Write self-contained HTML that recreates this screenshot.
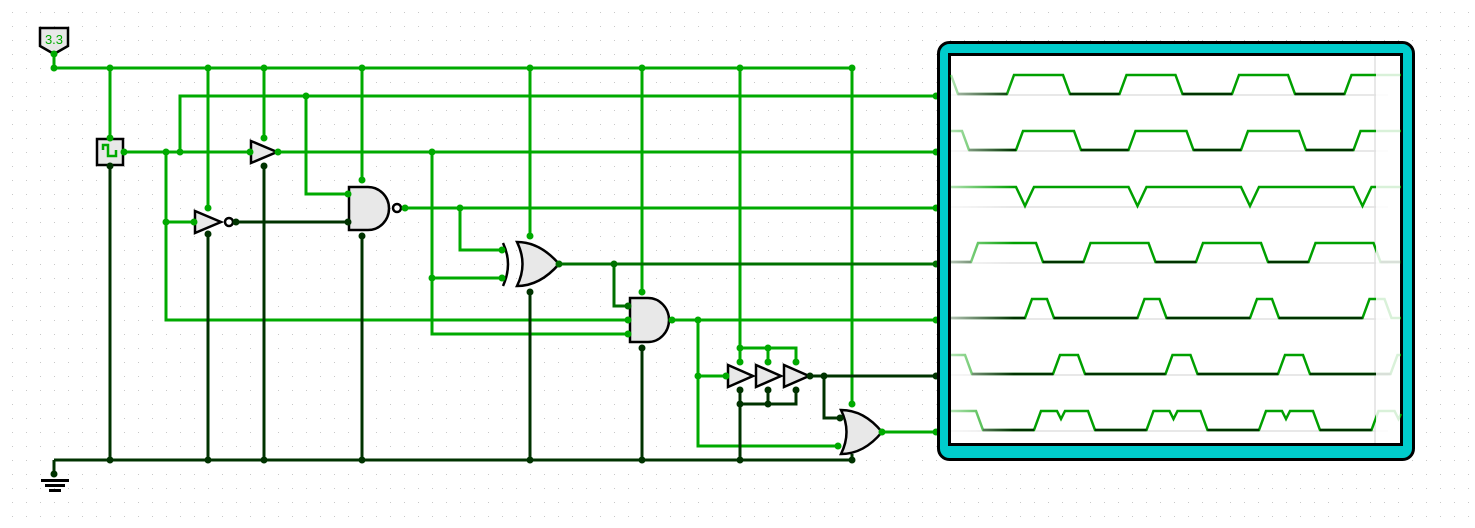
<!DOCTYPE html>
<html><head><meta charset="utf-8"><style>
html,body{margin:0;padding:0;background:#fff;width:1475px;height:528px;overflow:hidden}
svg{display:block}
</style></head><body>
<svg width="1475" height="528" viewBox="0 0 1475 528" xmlns="http://www.w3.org/2000/svg">
<defs>
<pattern id="dots" x="12" y="12" width="14" height="14" patternUnits="userSpaceOnUse"><rect x="0" y="0" width="1" height="1" fill="#c8c8c8"/></pattern>
<linearGradient id="fg" gradientUnits="userSpaceOnUse" x1="951" y1="0" x2="1014" y2="0">
<stop offset="0" stop-color="#fff" stop-opacity="0.7"/>
<stop offset="1" stop-color="#fff" stop-opacity="0"/>
</linearGradient>
</defs>
<rect width="1475" height="528" fill="url(#dots)"/>
<g fill="none" stroke-width="3">
<path stroke="#00aa00" d="M54 54V68H852M110 68V138M208 68V208M264 68V138M362 68V180M530 68V236M642 68V292M740 68V348H796V362M768 348V362M740 348V362M852 68V404M124 152H936M180 152V96H936M306 96V194H348M166 152V320H628M166 222H194M405 208H936M460 208V250H502M432 152V334H628M432 278H502M672 320H936M698 320V446H838M698 376H726M882 432H936"/>
<path stroke="#007000" d="M559 264H936M614 264V306H628"/>
<path stroke="#003300" d="M110 166V460M54 460H852M54 460V474M208 234V460M264 166V460M362 236V460M530 292V460M642 348V460M740 390V460M740 404H796V390M768 404V390M852 454V460M236 222H348M810 376H936M824 376V418H840"/>
</g>
<g fill="#000"><rect x="41" y="479" width="28" height="3"/><rect x="45" y="484" width="20" height="3"/><rect x="49" y="489" width="12" height="3"/></g>
<path d="M40 28H68V46L54 54L40 46Z" fill="#e8e8e8" stroke="#000" stroke-width="2.5"/>
<text x="54" y="44" font-family="Liberation Sans, sans-serif" font-size="13" fill="#00aa00" text-anchor="middle">3.3</text>
<rect x="97" y="139" width="26" height="26" fill="#e8e8e8" stroke="#000" stroke-width="2.5"/>
<path d="M103 150V145H108V156H116V150" fill="none" stroke="#00aa00" stroke-width="2.5"/>
<g fill="#e8e8e8" stroke="#000" stroke-width="2.5">
<polygon points="251,141 277,152 251,163"/>
<polygon points="195,211 221,222 195,233"/>
<circle cx="229" cy="222" r="4" fill="#fff"/>
<path d="M349 187H368A21 21.5 0 0 1 368 230H349Z"/>
<circle cx="397" cy="208" r="4" fill="#fff"/>
<path d="M503 243Q513 264 503 286" fill="none"/>
<path d="M517 242Q540 242 559 264Q540 286 517 286Q528 264 517 242Z"/>
<path d="M630 298H648A21 22 0 0 1 648 342H630Z"/>
<polygon points="728,365 753,376 728,387"/>
<polygon points="756,365 781,376 756,387"/>
<polygon points="784,365 809,376 784,387"/>
<path d="M841 410Q864 410 882 432Q864 454 841 454Q852 432 841 410Z"/>
</g>
<g fill="#00aa00">
<circle cx="54" cy="54" r="3.5"/><circle cx="54" cy="68" r="3.5"/><circle cx="110" cy="68" r="3.5"/><circle cx="208" cy="68" r="3.5"/><circle cx="264" cy="68" r="3.5"/><circle cx="362" cy="68" r="3.5"/><circle cx="530" cy="68" r="3.5"/><circle cx="642" cy="68" r="3.5"/><circle cx="740" cy="68" r="3.5"/><circle cx="852" cy="68" r="3.5"/>
<circle cx="110" cy="138" r="3.5"/><circle cx="124" cy="152" r="3.5"/><circle cx="166" cy="152" r="3.5"/><circle cx="180" cy="152" r="3.5"/><circle cx="250" cy="152" r="3.5"/><circle cx="278" cy="152" r="3.5"/><circle cx="432" cy="152" r="3.5"/><circle cx="306" cy="96" r="3.5"/><circle cx="264" cy="138" r="3.5"/><circle cx="208" cy="208" r="3.5"/><circle cx="166" cy="222" r="3.5"/><circle cx="194" cy="222" r="3.5"/><circle cx="348" cy="194" r="3.5"/><circle cx="362" cy="180" r="3.5"/><circle cx="405" cy="208" r="3.5"/><circle cx="460" cy="208" r="3.5"/><circle cx="502" cy="250" r="3.5"/><circle cx="502" cy="278" r="3.5"/><circle cx="432" cy="278" r="3.5"/><circle cx="530" cy="236" r="3.5"/><circle cx="628" cy="320" r="3.5"/><circle cx="628" cy="334" r="3.5"/><circle cx="642" cy="292" r="3.5"/><circle cx="672" cy="320" r="3.5"/><circle cx="698" cy="320" r="3.5"/><circle cx="698" cy="376" r="3.5"/><circle cx="726" cy="376" r="3.5"/><circle cx="740" cy="348" r="3.5"/><circle cx="768" cy="348" r="3.5"/><circle cx="740" cy="362" r="3.5"/><circle cx="768" cy="362" r="3.5"/><circle cx="796" cy="362" r="3.5"/><circle cx="852" cy="404" r="3.5"/><circle cx="838" cy="446" r="3.5"/><circle cx="882" cy="432" r="3.5"/>
<circle cx="936" cy="96" r="3.5"/><circle cx="936" cy="152" r="3.5"/><circle cx="936" cy="208" r="3.5"/><circle cx="936" cy="320" r="3.5"/><circle cx="936" cy="432" r="3.5"/>
</g>
<g fill="#007000"><circle cx="559" cy="264" r="3.5"/><circle cx="614" cy="264" r="3.5"/><circle cx="628" cy="306" r="3.5"/><circle cx="936" cy="264" r="3.5"/></g>
<g fill="#003300">
<circle cx="110" cy="166" r="3.5"/><circle cx="54" cy="474" r="3.5"/><circle cx="110" cy="460" r="3.5"/><circle cx="208" cy="460" r="3.5"/><circle cx="264" cy="460" r="3.5"/><circle cx="362" cy="460" r="3.5"/><circle cx="530" cy="460" r="3.5"/><circle cx="642" cy="460" r="3.5"/><circle cx="740" cy="460" r="3.5"/><circle cx="852" cy="460" r="3.5"/><circle cx="208" cy="234" r="3.5"/><circle cx="264" cy="166" r="3.5"/><circle cx="236" cy="222" r="3.5"/><circle cx="348" cy="222" r="3.5"/><circle cx="362" cy="236" r="3.5"/><circle cx="530" cy="292" r="3.5"/><circle cx="642" cy="348" r="3.5"/><circle cx="740" cy="390" r="3.5"/><circle cx="768" cy="390" r="3.5"/><circle cx="796" cy="390" r="3.5"/><circle cx="740" cy="404" r="3.5"/><circle cx="768" cy="404" r="3.5"/><circle cx="810" cy="376" r="3.5"/><circle cx="824" cy="376" r="3.5"/><circle cx="840" cy="418" r="3.5"/><circle cx="936" cy="376" r="3.5"/>
</g>
<rect x="938.5" y="42.5" width="475" height="417" rx="11" fill="#00cccc" stroke="#000" stroke-width="3"/>
<rect x="949.5" y="54.5" width="452" height="390" fill="#fff" stroke="#000" stroke-width="3"/>
<path d="M951 95H1388M951 151H1388M951 207H1388M951 263H1388M951 319H1388M951 375H1388M951 431H1388M1375 56V443" stroke="#e0e0e0" stroke-width="1.5" fill="none"/>
<g fill="none" stroke-width="2.5" stroke-linejoin="miter">
<g stroke="#00a000">
<polyline points="951,75 958,94 1007,94 1014,75 1063,75 1070,94 1119.5,94 1126.5,75 1175.5,75 1182.5,94 1232,94 1239,75 1288,75 1295,94 1344.5,94 1351.5,75 1401,75"/>
<polyline points="951,131 962,131 969,150 1016,150 1023,131 1074,131 1081,150 1128.5,150 1135.5,131 1186.5,131 1193.5,150 1241,150 1248,131 1299,131 1306,150 1353.5,150 1360.5,131 1401,131"/>
<polyline points="951,187 1016,187 1025,206 1034,187 1128.5,187 1137.5,206 1146.5,187 1241,187 1250,206 1259,187 1353.5,187 1362.5,206 1371.5,187 1401,187"/>
<polyline points="951,262 971,262 978,243 1036,243 1043,262 1083.5,262 1090.5,243 1148.5,243 1155.5,262 1196,262 1203,243 1261,243 1268,262 1308.5,262 1315.5,243 1373.5,243 1380.5,262 1401,262"/>
<polyline points="951,318 1025,318 1032,299 1047,299 1054,318 1137.5,318 1144.5,299 1159.5,299 1166.5,318 1250,318 1257,299 1272,299 1279,318 1362.5,318 1369.5,299 1384.5,299 1391.5,318 1401,318"/>
<polyline points="951,355 965,355 972,374 1053,374 1060,355 1078,355 1085,374 1165.5,374 1172.5,355 1190.5,355 1197.5,374 1278,374 1285,355 1303,355 1310,374 1390.5,374 1397.5,355 1401,355"/>
<polyline points="951,411 976,411 983,430 1034,430 1041,411 1057,411 1061,419 1065,411 1088,411 1095,430 1146.5,430 1153.5,411 1169.5,411 1173.5,419 1177.5,411 1200.5,411 1207.5,430 1259,430 1266,411 1282,411 1286,419 1290,411 1313,411 1320,430 1371.5,430 1378.5,411 1394.5,411 1398.5,419 1401,414"/>
</g>
<path stroke="#003300" d="M958 94H1007M1070 94H1119.5M1182.5 94H1232M1295 94H1344.5M969 150H1016M1081 150H1128.5M1193.5 150H1241M1306 150H1353.5M951 262H971M1043 262H1083.5M1155.5 262H1196M1268 262H1308.5M1380.5 262H1401M951 318H1025M1054 318H1137.5M1166.5 318H1250M1279 318H1362.5M972 374H1053M1085 374H1165.5M1197.5 374H1278M1310 374H1390.5M983 430H1034M1095 430H1146.5M1207.5 430H1259M1320 430H1371.5"/>
</g>
<rect x="951" y="56" width="63" height="387" fill="url(#fg)"/>
<rect x="1376" y="56" width="24" height="387" fill="#fff" fill-opacity="0.85"/>
</svg>
</body></html>
